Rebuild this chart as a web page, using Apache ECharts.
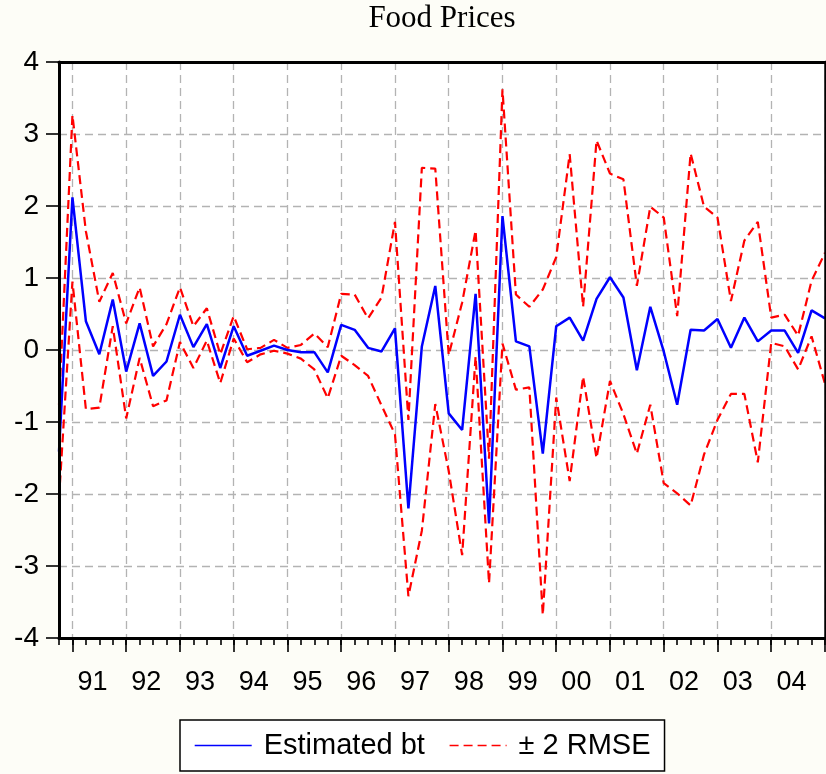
<!DOCTYPE html>
<html>
<head>
<meta charset="utf-8">
<script src="https://cdn.jsdelivr.net/npm/echarts@6/dist/echarts.min.js"></script>
<style>
  html, body { margin: 0; padding: 0; background: #fdfdf7; }
  #chart { width: 826px; height: 774px; }
</style>
</head>
<body>
<div id="chart"></div>
<script>
// Quarterly categories, 1990Q4 .. 2005Q1
const quarters = [
  '1990Q4',
  '1991Q1','1991Q2','1991Q3','1991Q4',
  '1992Q1','1992Q2','1992Q3','1992Q4',
  '1993Q1','1993Q2','1993Q3','1993Q4',
  '1994Q1','1994Q2','1994Q3','1994Q4',
  '1995Q1','1995Q2','1995Q3','1995Q4',
  '1996Q1','1996Q2','1996Q3','1996Q4',
  '1997Q1','1997Q2','1997Q3','1997Q4',
  '1998Q1','1998Q2','1998Q3','1998Q4',
  '1999Q1','1999Q2','1999Q3','1999Q4',
  '2000Q1','2000Q2','2000Q3','2000Q4',
  '2001Q1','2001Q2','2001Q3','2001Q4',
  '2002Q1','2002Q2','2002Q3','2002Q4',
  '2003Q1','2003Q2','2003Q3','2003Q4',
  '2004Q1','2004Q2','2004Q3','2004Q4',
  '2005Q1'
];

const estimatedBt = [
  -1.41,
  2.12, 0.40, -0.06, 0.70,
  -0.30, 0.37, -0.36, -0.16,
  0.49, 0.04, 0.36, -0.25,
  0.33, -0.08, -0.01, 0.06,
  0.00, -0.03, -0.03, -0.31,
  0.35, 0.28, 0.03, -0.02,
  0.30, -2.20, 0.05, 0.89,
  -0.88, -1.11, 0.78, -2.41,
  1.86, 0.12, 0.05, -1.44,
  0.33, 0.45, 0.13, 0.71,
  1.01, 0.73, -0.28, 0.60,
  -0.02, -0.76, 0.28, 0.27,
  0.43, 0.03, 0.45, 0.12,
  0.27, 0.27, -0.04, 0.55,
  0.44
];

const upperBand = [
  -0.76,
  3.26, 1.65, 0.67, 1.07,
  0.37, 0.87, 0.05, 0.36,
  0.87, 0.33, 0.58, -0.06,
  0.47, 0.01, 0.03, 0.14,
  0.03, 0.07, 0.23, 0.04,
  0.78, 0.77, 0.44, 0.73,
  1.78, -0.97, 2.53, 2.52,
  -0.07, 0.66, 1.66, -1.51,
  3.62, 0.77, 0.60, 0.84,
  1.29, 2.72, 0.60, 2.91,
  2.45, 2.37, 0.89, 1.99,
  1.84, 0.47, 2.73, 1.99,
  1.84, 0.68, 1.52, 1.78,
  0.45, 0.49, 0.20, 0.96,
  1.35
];

const lowerBand = [
  -2.06,
  0.95, -0.82, -0.80, 0.33,
  -0.95, -0.11, -0.78, -0.70,
  0.11, -0.25, 0.13, -0.46,
  0.16, -0.17, -0.06, -0.01,
  -0.05, -0.12, -0.27, -0.67,
  -0.08, -0.21, -0.36, -0.77,
  -1.17, -3.42, -2.51, -0.75,
  -1.68, -2.85, -0.09, -3.24,
  0.09, -0.55, -0.52, -3.68,
  -0.66, -1.82, -0.37, -1.50,
  -0.43, -0.89, -1.44, -0.76,
  -1.85, -1.99, -2.16, -1.45,
  -0.97, -0.61, -0.61, -1.56,
  0.10, 0.05, -0.27, 0.19,
  -0.47
];

const yTicks = { min: -4, max: 4, interval: 1 };

// Half-step categories (used only to centre the year labels on each year's span)
const halfSteps = [];
quarters.forEach(function (q, i) {
  halfSteps.push(q);
  if (i < quarters.length - 1) halfSteps.push(q + '|mid');
});
function isQ1(v) { return /Q1$/.test(v); }
function isMidYear(v) { return /Q2\|mid$/.test(v); }

const SANS = '"Liberation Sans", Arial, sans-serif';
const SERIF = '"Liberation Serif", "Times New Roman", serif';
const gridDash = { color: '#b3b3b3', width: 1.3, type: [8, 5] };
const frameLine = { show: true, onZero: false, lineStyle: { color: '#000', width: 3 } };
const noParts = {
  axisTick: { show: false }, axisLabel: { show: false },
  splitLine: { show: false }, splitArea: { show: false }
};

const chart = echarts.init(document.getElementById('chart'), null, { renderer: 'canvas' });
chart.setOption({
  backgroundColor: '#fdfdf7',
  animation: false,
  title: {
    text: 'Food Prices',
    left: 442,
    top: 3,
    padding: 0,
    textAlign: 'center',
    textStyle: { fontFamily: SERIF, fontSize: 31, fontWeight: 'normal', color: '#000' }
  },
  grid: {
    left: 59, right: 1, top: 62, bottom: 136,
    show: true,
    backgroundColor: '#ffffff',
    borderWidth: 0
  },
  legend: {
    left: 180,
    top: 720,
    padding: [11, 14, 11, 14],
    itemWidth: 57,
    itemHeight: 14,
    itemGap: 24,
    backgroundColor: '#ffffff',
    borderColor: '#000',
    borderWidth: 1.5,
    borderRadius: 0,
    itemStyle: { opacity: 0 },
    lineStyle: { width: 1.4 },
    textStyle: { fontFamily: SANS, fontSize: 29, color: '#000', padding: [0, 0, 0, 7] },
    data: ['Estimated bt', '± 2 RMSE']
  },
  xAxis: [
    {
      type: 'category',
      data: quarters,
      boundaryGap: false,
      position: 'bottom',
      axisLine: { show: false, onZero: false },
      axisTick: { show: true, interval: 0, length: 7, lineStyle: { color: '#000', width: 1.6 } },
      axisLabel: { show: false },
      splitLine: { show: true, interval: function (i, v) { return isQ1(v); }, lineStyle: gridDash }
    },
    {
      type: 'category',
      data: quarters,
      boundaryGap: false,
      position: 'bottom',
      z: 10,
      axisLine: frameLine,
      axisTick: { show: true, interval: function (i, v) { return isQ1(v); }, length: 14, lineStyle: { color: '#000', width: 1.6 } },
      axisLabel: { show: false },
      splitLine: { show: false }
    },
    {
      type: 'category',
      data: halfSteps,
      boundaryGap: false,
      position: 'bottom',
      axisLine: { show: false, onZero: false },
      axisTick: { show: false },
      axisLabel: {
        show: true,
        interval: function (i, v) { return isMidYear(v); },
        formatter: function (v) { return v.slice(2, 4); },
        margin: 31,
        fontFamily: SANS,
        fontSize: 27,
        color: '#000'
      },
      splitLine: { show: false }
    },
    Object.assign({
      type: 'category',
      data: quarters,
      boundaryGap: false,
      position: 'top',
      z: 10,
      axisLine: frameLine
    }, noParts)
  ],
  yAxis: [
    {
      type: 'value',
      min: yTicks.min,
      max: yTicks.max,
      interval: yTicks.interval,
      position: 'left',
      axisLine: { show: false, onZero: false },
      axisTick: { show: true, length: 13, lineStyle: { color: '#000', width: 1.6 } },
      axisLabel: { margin: 20, fontFamily: SANS, fontSize: 28, color: '#000' },
      splitLine: { show: true, lineStyle: gridDash }
    },
    Object.assign({
      type: 'value', min: yTicks.min, max: yTicks.max, interval: yTicks.interval,
      position: 'left', z: 10, axisLine: frameLine
    }, noParts),
    Object.assign({
      type: 'value', min: yTicks.min, max: yTicks.max, interval: yTicks.interval,
      position: 'right', z: 10,
      axisLine: { show: true, onZero: false, lineStyle: { color: '#000', width: 2.5 } }
    }, noParts)
  ],
  series: [
    {
      name: 'Estimated bt',
      type: 'line',
      xAxisIndex: 0,
      yAxisIndex: 0,
      data: estimatedBt,
      symbol: 'none',
      lineStyle: { color: '#0000ff', width: 2.5 },
      itemStyle: { color: '#0000ff' },
      z: 3
    },
    {
      name: '± 2 RMSE',
      type: 'line',
      xAxisIndex: 0,
      yAxisIndex: 0,
      data: upperBand,
      symbol: 'none',
      lineStyle: { color: '#ff0000', width: 2.2, type: [9, 5] },
      itemStyle: { color: '#ff0000' },
      z: 2
    },
    {
      name: '± 2 RMSE',
      type: 'line',
      xAxisIndex: 0,
      yAxisIndex: 0,
      data: lowerBand,
      symbol: 'none',
      lineStyle: { color: '#ff0000', width: 2.2, type: [9, 5] },
      itemStyle: { color: '#ff0000' },
      z: 2
    }
  ]
});
</script>
</body>
</html>
